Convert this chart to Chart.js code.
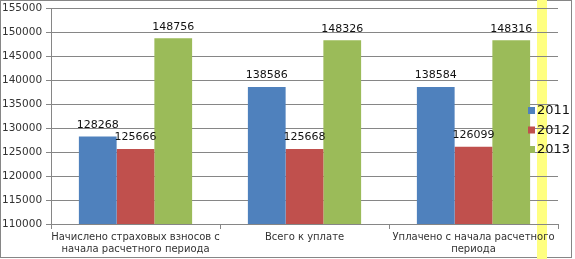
<!DOCTYPE html>
<html>
<head>
<meta charset="utf-8">
<script src="https://cdn.jsdelivr.net/npm/chart.js@4"></script>
<style>
    body { margin: 0; background: #fff; }
    #wrap { position: relative; width: 575px; height: 259px; }
</style>
</head>
<body>
<div id="wrap"><canvas id="chart" width="575" height="259"></canvas></div>
<script>
// chart data
const categories = [
    ['Начислено страховых взносов с', 'начала расчетного периода'],
    'Всего к уплате',
    ['Уплачено с начала расчетного', 'периода']
];
const seriesNames = ['2011', '2012', '2013'];
const values2011 = [128268, 138586, 138584];
const values2012 = [125666, 125668, 126099];
const values2013 = [148756, 148326, 148316];
const yTicks = [110000, 115000, 120000, 125000, 130000, 135000, 140000, 145000, 150000, 155000];

const colors = ['#4F81BD', '#C0504D', '#9BBB59'];
const font = 'DejaVu Sans';

// yellow strip + frame behind the chart
const backdrop = {
    id: 'backdrop',
    beforeDraw(chart) {
        const ctx = chart.ctx;
        ctx.save();
        ctx.fillStyle = '#fff';
        ctx.fillRect(0, 0, chart.width, chart.height);
        ctx.strokeStyle = '#868686';
        ctx.lineWidth = 1;
        ctx.strokeRect(0.5, 0.5, 571, 257);
        ctx.fillStyle = '#FFFF80';
        ctx.fillRect(537, 0, 10, chart.height);
        ctx.restore();
    }
};

// value labels above bars
const barLabels = {
    id: 'barLabels',
    afterDatasetsDraw(chart) {
        const ctx = chart.ctx;
        ctx.save();
        ctx.font = '11px "' + font + '"';
        ctx.fillStyle = '#111';
        ctx.textAlign = 'center';
        ctx.textBaseline = 'bottom';
        chart.data.datasets.forEach((ds, i) => {
            chart.getDatasetMeta(i).data.forEach((bar, j) => {
                ctx.fillText(String(ds.data[j]), bar.x, bar.y - 6);
            });
        });
        ctx.restore();
    }
};

// legend drawn over the plot, right side
const sideLegend = {
    id: 'sideLegend',
    afterDraw(chart) {
        const ctx = chart.ctx;
        ctx.save();
        ctx.font = '13px "' + font + '"';
        ctx.textBaseline = 'middle';
        chart.data.datasets.forEach((ds, i) => {
            const y = 110 + i * 19.5;
            ctx.fillStyle = ds.backgroundColor;
            ctx.fillRect(528, y - 3, 7, 7);
            ctx.fillStyle = '#111';
            ctx.fillText(ds.label, 537, y + 1);
        });
        ctx.restore();
    }
};

new Chart(document.getElementById('chart'), {
    type: 'bar',
    data: {
        labels: categories,
        datasets: [
            { label: seriesNames[0], data: values2011, backgroundColor: colors[0] },
            { label: seriesNames[1], data: values2012, backgroundColor: colors[1] },
            { label: seriesNames[2], data: values2013, backgroundColor: colors[2] }
        ]
    },
    options: {
        responsive: false,
        animation: false,
        layout: { padding: { left: 2, right: 17, top: 7, bottom: 0 } },
        datasets: {
            bar: { categoryPercentage: 0.67, barPercentage: 1.0 }
        },
        plugins: {
            legend: { display: false },
            tooltip: { enabled: false }
        },
        scales: {
            x: {
                grid: { display: true, drawOnChartArea: false, color: '#868686', tickLength: 5, offset: true },
                border: { color: '#868686' },
                ticks: {
                    color: '#333',
                    font: { family: font, size: 10 },
                    maxRotation: 0,
                    autoSkip: false,
                    padding: 2
                },
                afterFit(scale) { scale.height = 35; }
            },
            y: {
                min: 110000,
                max: 155000,
                afterBuildTicks(scale) { scale.ticks = yTicks.map(v => ({ value: v })); },
                grid: { color: '#868686', tickLength: 5 },
                border: { color: '#868686' },
                ticks: {
                    color: '#333',
                    font: { family: font, size: 10.5 },
                    crossAlign: 'far',
                    padding: 2,
                    callback: v => String(v)
                },
                afterFit(scale) { scale.width = 49; }
            }
        }
    },
    plugins: [backdrop, barLabels, sideLegend]
});
</script>
</body>
</html>
